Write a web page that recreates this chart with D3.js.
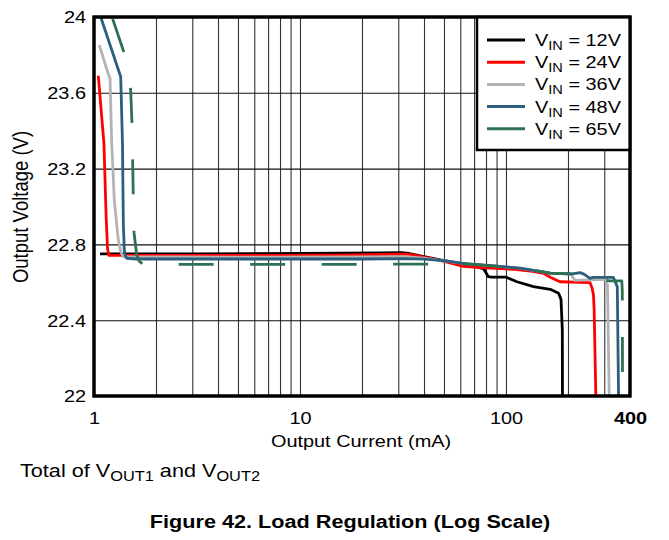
<!DOCTYPE html>
<html><head><meta charset="utf-8">
<script src="https://cdn.jsdelivr.net/npm/d3@7"></script>
<style>
html,body{margin:0;padding:0;background:#fff;}
svg{display:block;font-family:"Liberation Sans",Arial,sans-serif;}
</style></head>
<body>
<svg id="chart" width="669" height="540"></svg>
<script>
// ---- data (Output Current mA, Output Voltage V) ----
const seriesNames = ["12V","24V","36V","48V","65V"];
const seriesColors = ["#000000","#ff0000","#b3b3b3","#2b5f7c","#2d7052"];
const vin12 = [[1.07,22.75],[3,22.75],[10,22.752],[25,22.755],[31,22.757],[34,22.752],[40,22.735],[48,22.718],[60,22.70],[72,22.683],[78,22.67],[80.5,22.645],[82,22.63],[85,22.627],[100,22.627],[113,22.603],[136,22.577],[164,22.563],[180,22.542],[185,22.51],[187.7,22.35],[188,22.0]];
const vin24 = [[1.049,23.69],[1.118,23.33],[1.145,22.95],[1.163,22.78],[1.18,22.742],[5,22.742],[15,22.743],[30,22.748],[34,22.748],[40,22.733],[48,22.716],[62,22.684],[75,22.678],[90,22.674],[110,22.668],[135,22.658],[152,22.647],[165,22.625],[183,22.603],[256,22.598],[262,22.568],[266,22.53],[268,22.45],[273,22.0]];
const vin36 = [[1.061,23.852],[1.169,23.704],[1.196,23.678],[1.219,23.33],[1.255,23.034],[1.312,22.823],[1.35,22.76],[1.39,22.735],[5,22.733],[20,22.734],[32,22.735],[40,22.728],[48,22.716],[65,22.697],[93,22.684],[117,22.675],[136,22.663],[164,22.648],[200,22.644],[208,22.638],[216,22.61],[229,22.612],[308,22.615],[311,22.58],[317,22.0]];
const vin48 = [[1.078,24.0],[1.348,23.685],[1.375,23.33],[1.388,22.91],[1.403,22.77],[1.42,22.74],[1.441,22.727],[1.6,22.723],[5,22.723],[20,22.723],[32,22.725],[40,22.722],[48,22.716],[65,22.697],[93,22.684],[117,22.675],[136,22.663],[164,22.648],[196,22.644],[210,22.645],[229,22.651],[240,22.642],[256,22.621],[265,22.626],[332,22.626],[347,22.577],[352,22.0]];
const vin65 = [[1.223,24.0],[1.403,23.808],[1.479,23.694],[1.507,23.611],[1.53,23.43],[1.551,23.055],[1.564,22.862],[1.612,22.744],[1.66,22.71],[1.735,22.695],[5,22.695],[20,22.695],[40,22.696],[55,22.699],[65,22.697],[93,22.684],[117,22.675],[136,22.663],[164,22.648],[210,22.645],[250,22.632],[300,22.612],[320,22.607],[365,22.607],[367,22.55],[368,22.0]];
const seriesData = [vin12, vin24, vin36, vin48, vin65];
const xTickLabels = [1,10,100,400];
const xGridValues = [2,3,4,5,6,7,8,9,10,20,30,40,50,60,70,80,90,100,200,300];
const yTickLabels = [22,22.4,22.8,23.2,23.6,24];
const yGridValues = [22.4,22.8,23.2,23.6];

// ---- layout ----
const svg = d3.select("#chart");
const L=94, R=630, T=17, B=396;
const SX = 1.17; // horizontal text stretch
const x = d3.scaleLog().domain([1,400]).range([L,R]);
const y = d3.scaleLinear().domain([22,24]).range([B,T]);

svg.append("defs").append("clipPath").attr("id","plotclip")
  .append("rect").attr("x",L).attr("y",T).attr("width",R-L).attr("height",B-T);

// grid
const gxg = svg.append("g").attr("transform",`translate(0,${B})`)
  .call(d3.axisBottom(x).tickValues(xGridValues).tickSize(-(B-T)).tickFormat(""));
gxg.select(".domain").remove();
gxg.selectAll("line").attr("stroke","#333").attr("stroke-width",1.1);
const gyg = svg.append("g").attr("transform",`translate(${L},0)`)
  .call(d3.axisLeft(y).tickValues(yGridValues).tickSize(-(R-L)).tickFormat(""));
gyg.select(".domain").remove();
gyg.selectAll("line").attr("stroke","#111").attr("stroke-width",1.1);

// lines
const line = d3.line().x(d=>x(d[0])).y(d=>y(d[1]));
const lg = svg.append("g").attr("clip-path","url(#plotclip)");
seriesData.forEach((data,i)=>{
  const p = lg.append("path").datum(data).attr("d",line)
    .attr("fill","none").attr("stroke",seriesColors[i])
    .attr("stroke-width",2.8).attr("stroke-linejoin","round");
  if(i===4) p.attr("stroke-dasharray","35,36.5").attr("stroke-dashoffset",-2);
});

// frame
svg.append("rect").attr("x",L).attr("y",T).attr("width",R-L).attr("height",B-T)
  .attr("fill","none").attr("stroke","#000").attr("stroke-width",3);

// axes labels
const xa = svg.append("g").attr("transform",`translate(0,${B})`)
  .call(d3.axisBottom(x).tickValues(xTickLabels).tickSize(0).tickPadding(0).tickFormat(d3.format("d")));
xa.select(".domain").remove();
xa.selectAll("text").attr("font-size",17).attr("font-family","Liberation Sans, Arial, sans-serif")
  .attr("fill","#000").attr("dy",null).attr("y",0)
  .attr("transform","translate(0,28) scale(1.17,1)")
  .attr("font-weight",d=>d===400?"bold":"normal");

const ya = svg.append("g").attr("transform",`translate(${L},0)`)
  .call(d3.axisLeft(y).tickValues(yTickLabels).tickSize(0).tickPadding(0).tickFormat(d=>d3.format("")(d)));
ya.select(".domain").remove();
ya.selectAll("text").attr("font-size",17).attr("font-family","Liberation Sans, Arial, sans-serif")
  .attr("fill","#000").attr("x",0).attr("dy","0.35em")
  .attr("transform","translate(-8,0) scale(1.17,1)");

function stretchedText(px,py,anchor,size,weight){
  const g = svg.append("g").attr("transform",`translate(${px},${py}) scale(${SX},1)`);
  return g.append("text").attr("text-anchor",anchor).attr("font-size",size)
    .attr("font-weight",weight||"normal").attr("fill","#000");
}

stretchedText(361,447,"middle",17).text("Output Current (mA)");

// y title (rotated)
svg.append("g").attr("transform",`translate(28,207) rotate(-90) scale(1,${SX})`)
  .append("text").attr("text-anchor","middle").attr("font-size",18.5).attr("fill","#000")
  .text("Output Voltage (V)");

// footnote
const ft = stretchedText(20,477,"start",18.5);
ft.append("tspan").text("Total of V");
ft.append("tspan").attr("font-size",14).attr("dy",4).text("OUT1");
ft.append("tspan").attr("dy",-4).text(" and V");
ft.append("tspan").attr("font-size",14).attr("dy",4).text("OUT2");

// title
stretchedText(350,528,"middle",18.5,"bold").text("Figure 42. Load Regulation (Log Scale)");

// legend
svg.append("rect").attr("x",477).attr("y",T).attr("width",R-477).attr("height",150-T)
  .attr("fill","#fff").attr("stroke","#000").attr("stroke-width",2.5);
seriesNames.forEach((n,i)=>{
  const ly = 40 + i*22.2;
  svg.append("line").attr("x1",487).attr("x2",525).attr("y1",ly).attr("y2",ly)
    .attr("stroke",seriesColors[i]).attr("stroke-width",3);
  const t = stretchedText(535,ly+6,"start",17);
  t.append("tspan").text("V");
  t.append("tspan").attr("font-size",12.5).attr("dy",4).text("IN");
  t.append("tspan").attr("dy",-4).text(" = "+n);
});
// redraw frame edges over legend
svg.append("rect").attr("x",L).attr("y",T).attr("width",R-L).attr("height",B-T)
  .attr("fill","none").attr("stroke","#000").attr("stroke-width",3);
</script>
</body></html>
